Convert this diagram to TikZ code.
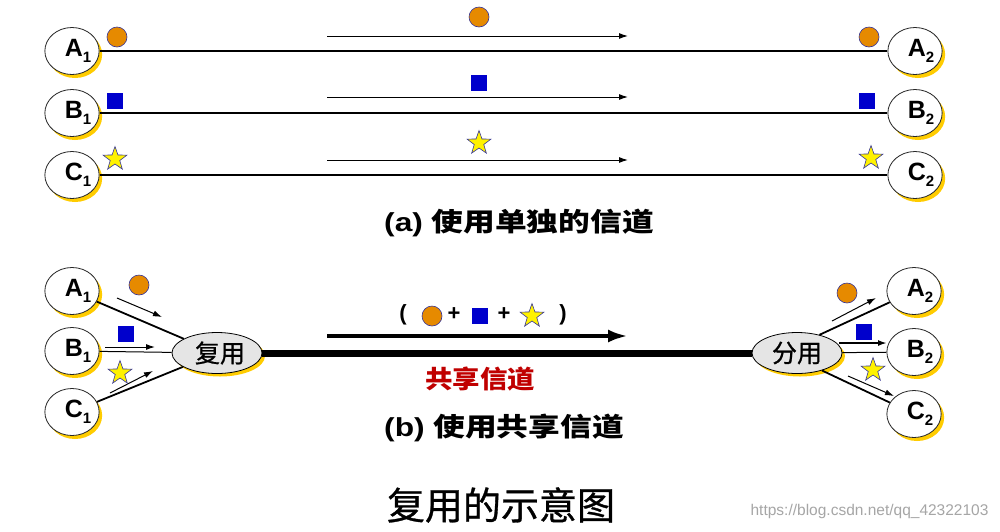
\documentclass[tikz,border=0pt]{standalone}
\usepackage{fontspec}
\setmainfont{Liberation Sans}
\newfontfamily\cjk{Noto Sans CJK SC}
\newfontfamily\cjkmed[FakeBold=0.8]{Noto Sans CJK SC}
\usetikzlibrary{shapes.geometric,shadows,arrows.meta}
\definecolor{gold}{HTML}{FFCC00}
\definecolor{dotorange}{HTML}{E68A00}
\definecolor{mblue}{HTML}{0000CC}
\definecolor{edgeblue}{HTML}{333399}
\definecolor{darkred}{HTML}{C00000}
\newcommand{\sx}[2]{\scalebox{#1}[1]{#2}}
\newcommand{\stlab}[2]{\kern12pt #1\raisebox{-6pt}{\fontsize{15}{15}\selectfont #2}}
\begin{document}
\begin{tikzpicture}[x=1pt,y=-1pt,
 station/.style={ellipse, draw=black!85, line width=0.8pt, fill=white, minimum width=50pt, minimum height=47pt, inner sep=0pt, drop shadow={shadow xshift=3pt, shadow yshift=-3.5pt, fill=gold, opacity=1}, font=\fontsize{25}{25}\selectfont\bfseries},
 mux/.style={ellipse, draw=black, line width=0.8pt, fill=black!10, minimum width=90pt, minimum height=41pt, inner sep=0pt, drop shadow={shadow xshift=3pt, shadow yshift=-3pt, fill=gold, opacity=1}, font=\cjkmed\fontsize{25}{25}\selectfont},
 dot/.style={circle, draw=edgeblue, fill=dotorange, line width=0.6pt, minimum size=20pt, inner sep=0pt},
 sq/.style={rectangle, fill=mblue, minimum size=16pt, inner sep=0pt},
 st/.style={star, star points=5, star point ratio=2.5, draw=edgeblue, fill=yellow, line width=0.6pt, minimum size=25pt, inner sep=0pt},
 chan/.style={line width=2pt},
 link/.style={line width=1.8pt},
 thinlink/.style={line width=1pt},
 flow/.style={line width=1pt, -{Latex[length=9pt,width=6pt]}},
]
\useasboundingbox[fill=white] (0,0) rectangle (1000,531);

% ---------- (a) ----------
\node[station] (A1) at (72,51) {\stlab{A}{1}};
\node[station] (B1) at (72,113) {\stlab{B}{1}};
\node[station] (C1) at (72,175) {\stlab{C}{1}};
\node[station] (A2) at (915,51) {\stlab{A}{2}};
\node[station] (B2) at (915,113) {\stlab{B}{2}};
\node[station] (C2) at (915,175) {\stlab{C}{2}};

\draw[chan] (A1) -- (A2);
\draw[chan] (B1) -- (B2);
\draw[chan] (C1) -- (C2);

\coordinate (fa1) at (327,36); \coordinate (fa2) at (628,36);
\coordinate (fb1) at (327,97); \coordinate (fb2) at (628,97);
\coordinate (fc1) at (327,160); \coordinate (fc2) at (628,160);
\draw[flow] (fa1) -- (fa2);
\draw[flow] (fb1) -- (fb2);
\draw[flow] (fc1) -- (fc2);

\node[dot] (da1) at (117,37) {};
\node[dot] (da2) at (479,17) {};
\node[dot] (da3) at (869,37) {};
\node[sq] (sb1) at (115,101) {};
\node[sq] (sb2) at (479,83) {};
\node[sq] (sb3) at (867,101) {};
\node[st] (sc1) at (115,159) {};
\node[st] (sc2) at (479,143) {};
\node[st] (sc3) at (871,158) {};

\node (ta) at (519,223) {\sx{1.22}{\fontsize{26}{26}\selectfont\bfseries (a) {\cjk\bfseries 使用单独的信道}}};

% ---------- (b) ----------
\node[station] (A1b) at (72,291) {\stlab{A}{1}};
\node[station] (B1b) at (72,351) {\stlab{B}{1}};
\node[station] (C1b) at (72,412) {\stlab{C}{1}};
\node[station] (A2b) at (914,291) {\stlab{A}{2}};
\node[station] (B2b) at (914,352) {\stlab{B}{2}};
\node[station] (C2b) at (914,414) {\stlab{C}{2}};

\node[mux] (mx) at (217,353) {\kern6pt 复用};
\node[mux] (dmx) at (797,353) {分用};

\draw[line width=7pt] (mx) -- (dmx);

\draw[link] (A1b) -- (mx);
\draw[thinlink] (B1b) -- (mx);
\draw[link] (C1b) -- (mx);
\draw[link] (dmx.39) -- (A2b);
\draw[thinlink] (dmx) -- (B2b);
\draw[link] (dmx.-35) -- (C2b);

\coordinate (la1) at (117,298); \coordinate (la2) at (162,317);
\coordinate (lb1) at (105,347); \coordinate (lb2) at (155,347);
\coordinate (lc1) at (110,393); \coordinate (lc2) at (153,371);
\coordinate (ra1) at (832,321); \coordinate (ra2) at (876,298);
\coordinate (rb1) at (839,343); \coordinate (rb2) at (887,343);
\coordinate (rc1) at (848,376); \coordinate (rc2) at (894,396);
\draw[flow] (la1) -- (la2);
\draw[flow] (lb1) -- (lb2);
\draw[flow] (lc1) -- (lc2);
\draw[flow] (ra1) -- (ra2);
\draw[flow, line width=2.2pt] (rb1) -- (rb2);
\draw[flow] (rc1) -- (rc2);

\node[dot] (bda) at (139,285) {};
\node[sq] (bsa) at (126,334) {};
\node[st] (bsta) at (120,373) {};
\node[dot] (bdb) at (847,293) {};
\node[sq] (bsb) at (864,332) {};
\node[st] (bstb) at (873,370) {};

% mixed signal
\coordinate (big1) at (327,336); \coordinate (big2) at (628,336);
\draw[line width=4pt, -{Latex[length=20pt,width=13pt]}] (big1) -- (big2);
\node[font=\fontsize{22}{22}\selectfont\bfseries] (lp) at (403,315) {(};
\node[dot] (md) at (432,316) {};
\node[font=\fontsize{22}{22}\selectfont\bfseries] (p1) at (454,314) {+};
\node[sq] (ms) at (480,316) {};
\node[font=\fontsize{22}{22}\selectfont\bfseries] (p2) at (504,314) {+};
\node[st] (mst) at (532,316) {};
\node[font=\fontsize{22}{22}\selectfont\bfseries] (rp) at (563,315) {)};

\node[text=darkred] (sh) at (480,379) {\sx{1.1}{\cjk\bfseries\fontsize{25}{25}\selectfont 共享信道}};

\node (tb) at (504,428) {\sx{1.22}{\fontsize{26}{26}\selectfont\bfseries (b) {\cjk\bfseries 使用共享信道}}};

\node (tt) at (501,505) {\cjkmed\fontsize{38}{38}\selectfont 复用的示意图};

\node[text=black!35, anchor=east] (wm) at (992,511) {\fontsize{15.5}{15.5}\selectfont https://blog.csdn.net/qq\_42322103};
\end{tikzpicture}
\end{document}
